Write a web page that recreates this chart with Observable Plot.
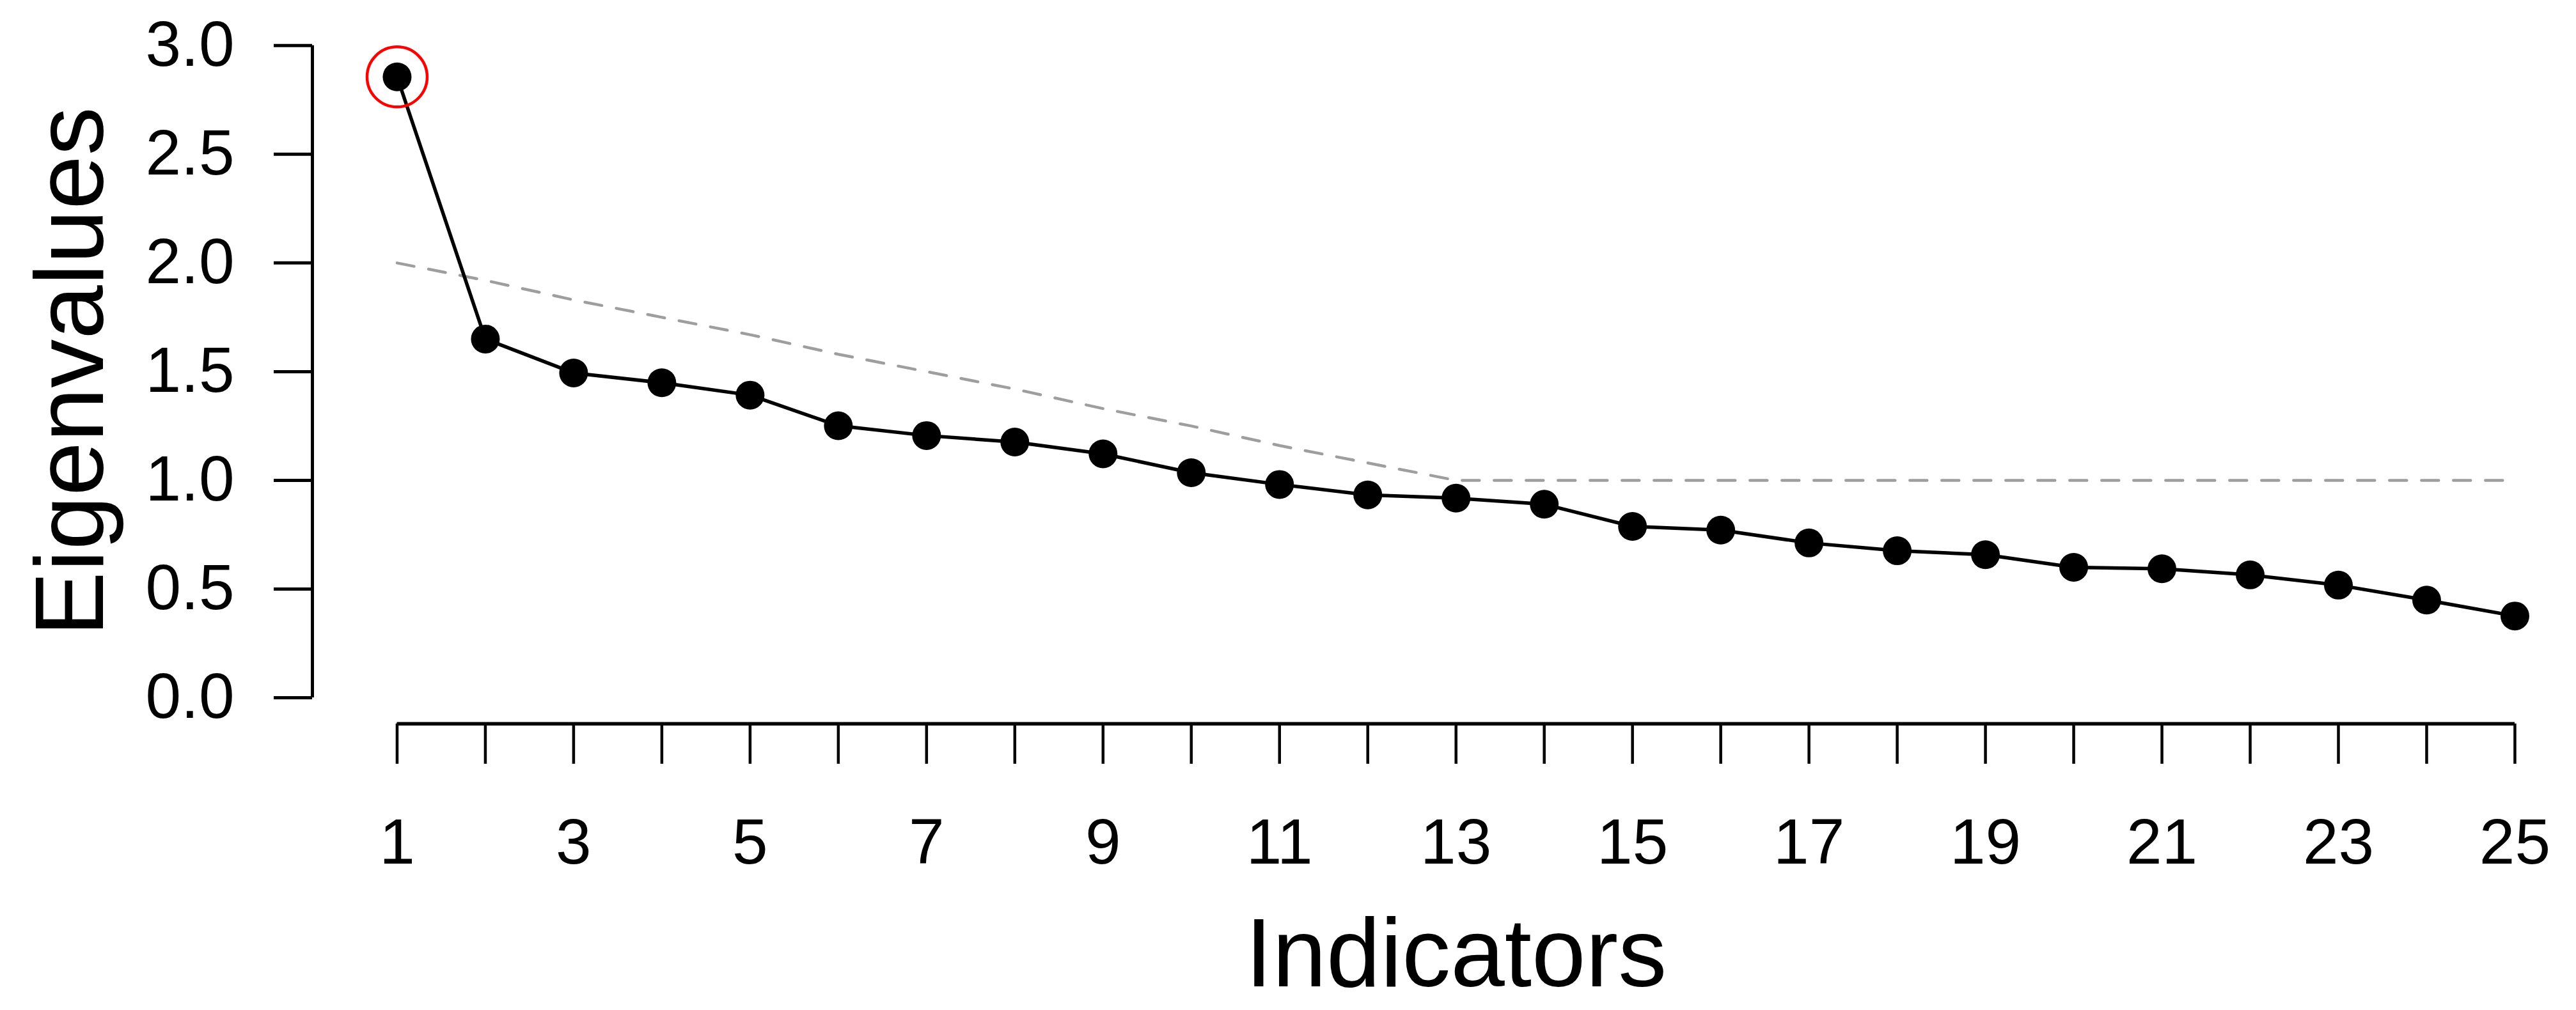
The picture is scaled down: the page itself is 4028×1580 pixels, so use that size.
<!DOCTYPE html>
<html>
<head>
<meta charset="utf-8">
<script src="https://cdn.jsdelivr.net/npm/d3@7"></script>
<script src="https://cdn.jsdelivr.net/npm/@observablehq/plot@0.6"></script>
<style>html,body{margin:0;padding:0;background:#fff}</style>
</head>
<body>
<div id="chart"></div>
<script>
// Categories (x)
const indicators = [1,2,3,4,5,6,7,8,9,10,11,12,13,14,15,16,17,18,19,20,21,22,23,24,25];
// Observed eigenvalues (solid line with dots)
const eigenvalues = [2.856,1.650,1.494,1.449,1.392,1.251,1.206,1.176,1.122,1.035,0.981,0.933,0.918,0.890,0.788,0.771,0.712,0.676,0.658,0.600,0.593,0.565,0.518,0.449,0.376];
// Reference (dashed grey line)
const reference = [2.00,1.92,1.83,1.75,1.67,1.58,1.50,1.42,1.33,1.25,1.16,1.08,1.00,1.00,1.00,1.00,1.00,1.00,1.00,1.00,1.00,1.00,1.00,1.00,1.00];
// Tick values / labels
const yTicks = [0,0.5,1,1.5,2,2.5,3];
const xTicks = indicators;
const xLabels = [1,3,5,7,9,11,13,15,17,19,21,23,25];
const highlighted = [1];

const table = indicators.map((x, i) => ({x, y: eigenvalues[i], ref: reference[i]}));
const xDomain = [0.04, 25.696];
const yDomain = [-0.12, 3.12];
const font = "'Liberation Sans', Arial, Helvetica, sans-serif";

const chart = Plot.plot({
  width: 4028,
  height: 1580,
  marginLeft: 488,
  marginRight: 0,
  marginTop: 30,
  marginBottom: 448.2,
  x: {domain: xDomain, label: null},
  y: {domain: yDomain, label: null},
  style: {fontFamily: font, background: "white", color: "black"},
  marks: [
    Plot.ruleX([xDomain[0]], {y1: yTicks[0], y2: yTicks[yTicks.length - 1], stroke: "black", strokeWidth: 5}),
    Plot.ruleY([yDomain[0]], {x1: indicators[0], x2: indicators[indicators.length - 1], stroke: "black", strokeWidth: 5.5}),
    Plot.axisY(yTicks, {label: null, tickSize: 60, tickPadding: 62, fontSize: 100, tickFormat: d => d.toFixed(1), strokeWidth: 5, fill: "black"}),
    Plot.axisX(xTicks, {label: null, tickSize: 63, tickPadding: 85, fontSize: 100, tickFormat: d => xLabels.includes(d) ? String(d) : "", strokeWidth: 4.5, fill: "black"}),
    Plot.line(table, {x: "x", y: "ref", stroke: "#9e9e9e", strokeWidth: 4.5, strokeDasharray: "27,23"}),
    Plot.line(table, {x: "x", y: "y", stroke: "black", strokeWidth: 5.5}),
    Plot.dot(table, {x: "x", y: "y", r: 22.5, fill: "black"}),
    Plot.dot(table.filter(d => highlighted.includes(d.x)), {x: "x", y: "y", r: 47, stroke: "red", strokeWidth: 4.5, fill: "none"}),
    Plot.text(["Indicators"], {x: () => (indicators[0] + indicators[indicators.length - 1]) / 2, y: () => yDomain[0], text: d => d, dy: 361.6, fontSize: 152, textAnchor: "middle", lineAnchor: "middle", fill: "black"}),
    Plot.text(["Eigenvalues"], {x: () => xDomain[0], y: () => (yTicks[0] + yTicks[yTicks.length - 1]) / 2, text: d => d, rotate: -90, dx: -376.6, fontSize: 152, textAnchor: "middle", lineAnchor: "middle", fill: "black"})
  ]
});
document.getElementById("chart").appendChild(chart);
</script>
</body>
</html>
